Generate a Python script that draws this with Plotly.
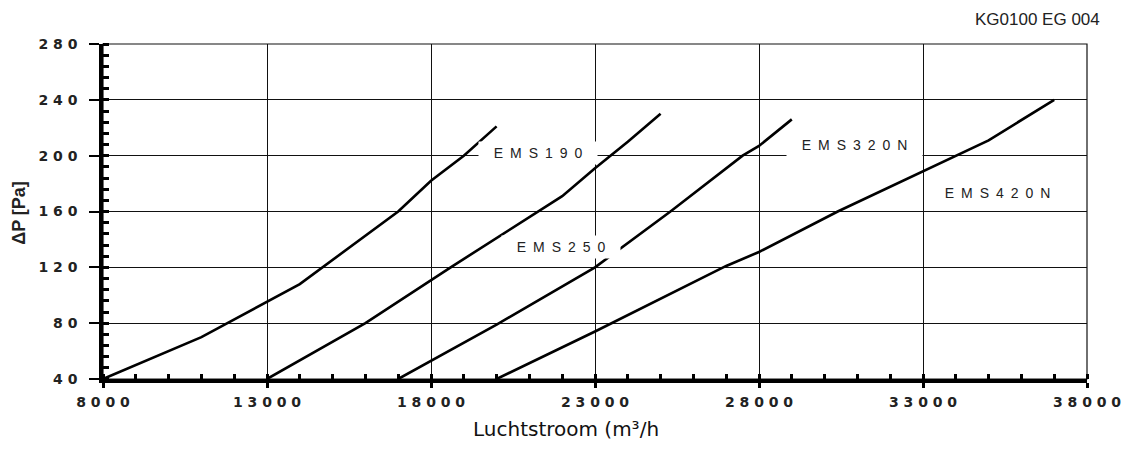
import plotly.graph_objects as go

# ---- data ----
x_ticks = [8000, 13000, 18000, 23000, 28000, 33000, 38000]
y_ticks = [40, 80, 120, 160, 200, 240, 280]

ems190_x = [8000, 11000, 14000, 17000, 18000, 19000, 20000]
ems190_y = [40, 70, 108, 160, 182, 200, 221]

ems250_x = [13000, 16000, 18600, 21300, 22000, 23000, 24000, 25000]
ems250_y = [40, 80, 120, 160, 171, 191, 210, 230]

ems320_x = [17000, 20000, 23000, 25300, 27500, 28000, 29000]
ems320_y = [40, 79, 120, 160, 200, 207, 226]

ems420_x = [20000, 23000, 27000, 28000, 30400, 33000, 35000, 37000]
ems420_y = [40, 74, 121, 131, 160, 189, 211, 240]

series = [
    ("EMS190", ems190_x, ems190_y),
    ("EMS250", ems250_x, ems250_y),
    ("EMS320N", ems320_x, ems320_y),
    ("EMS420N", ems420_x, ems420_y),
]

# label anchor positions (data units)
labels = [
    ("EMS190", 21250, 202),
    ("EMS250", 21950, 134.5),
    ("EMS320N", 30900, 207.5),
    ("EMS420N", 35280, 173),
]

SP = "\u2002"
TSP = "\u00a0"


def spaced(s, sep=SP):
    return sep.join(list(s))


fig = go.Figure()
for name, xs, ys in series:
    fig.add_trace(go.Scatter(x=xs, y=ys, mode="lines", name=name,
                             line=dict(color="black", width=2.6),
                             showlegend=False, hoverinfo="skip"))

tickfont = dict(family="DejaVu Sans, Verdana, sans-serif", size=14, color="#222")

fig.update_xaxes(
    range=[8000, 38000],
    tickvals=x_ticks,
    ticktext=["<b>" + spaced(str(v), TSP) + "</b>" for v in x_ticks],
    tickfont=tickfont,
    showline=True, linecolor="black", linewidth=3.5,
    ticks="outside", ticklen=5, tickwidth=3, tickcolor="black",
    showgrid=True, gridcolor="#111", gridwidth=1.2,
    zeroline=False,
    ticklabelstandoff=2,
    minor=dict(dtick=1000, tick0=8000, ticks="inside", ticklen=5, tickwidth=3,
               tickcolor="black", showgrid=False),
)
fig.update_yaxes(
    range=[40, 280],
    tickvals=y_ticks,
    ticktext=["<b>" + spaced(str(v), TSP) + "</b>" for v in y_ticks],
    tickfont=tickfont,
    showline=True, linecolor="black", linewidth=3.5,
    ticks="outside", ticklen=10, tickwidth=2, tickcolor="black",
    showgrid=True, gridcolor="#111", gridwidth=1.2,
    zeroline=False,
    ticklabelstandoff=9,
    minor=dict(dtick=8, tick0=40, ticks="inside", ticklen=6, tickwidth=2.5,
               tickcolor="black", showgrid=False),
)

annotations = []
for text, lx, ly in labels:
    annotations.append(dict(
        x=lx, y=ly, xref="x", yref="y", showarrow=False,
        text="\u00a0\u00a0\u00a0" + spaced(text) + "\u00a0\u00a0\u00a0",
        font=dict(family="Liberation Sans, Arial, sans-serif", size=14, color="#222"),
        bgcolor="white", borderpad=3,
    ))

annotations.append(dict(
    x=1046, y=19, showarrow=False,
    text="KG0100 EG 004",
    font=dict(family="Liberation Sans, Arial, sans-serif", size=17, color="#222"),
    xanchor="center", yanchor="middle",
))
annotations.append(dict(
    x=570, y=429, showarrow=False,
    text="Luchtstroom (m³/h",
    font=dict(family="DejaVu Sans, Verdana, sans-serif", size=20, color="#111"),
    xanchor="center", yanchor="middle",
))
annotations.append(dict(
    x=18, y=213, showarrow=False, textangle=-90,
    text="<b>ΔP [Pa]</b>",
    font=dict(family="Liberation Sans, Arial, sans-serif", size=18, color="#222"),
    xanchor="center", yanchor="middle",
))

# convert pixel-positioned annotations to paper coords
W, H = 1133, 457
ml, mr, mt, mb = 103, 37, 44, 78
pw, ph = W - ml - mr, H - mt - mb
for a in annotations[-3:]:
    a["xref"] = "paper"
    a["yref"] = "paper"
    a["x"] = (a["x"] - ml) / pw
    a["y"] = 1 - (a["y"] - mt) / ph

fig.update_layout(
    width=W, height=H,
    margin=dict(l=ml, r=mr, t=mt, b=mb, pad=0),
    paper_bgcolor="white", plot_bgcolor="white",
    annotations=annotations,
    shapes=[dict(type="rect", xref="paper", yref="paper", x0=0, x1=1, y0=0, y1=1,
                 line=dict(color="#111", width=1.2), layer="below")],
)

fig.write_html("out.html")
